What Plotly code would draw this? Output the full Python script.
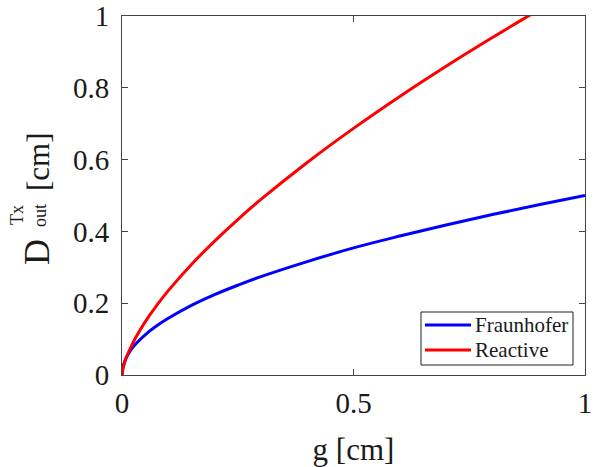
import plotly.graph_objects as go

# Gap g [cm] and the outer transmitter diameter bound D_out^Tx [cm]
g_fraunhofer = [0, 0.002, 0.005, 0.01, 0.02, 0.03, 0.05, 0.075, 0.1, 0.15, 0.2,
                0.25, 0.3, 0.4, 0.5, 0.6, 0.7, 0.8, 0.9, 1.0]
d_fraunhofer = [0, 0.022, 0.035, 0.05, 0.071, 0.087, 0.112, 0.137, 0.158, 0.194,
                0.224, 0.25, 0.274, 0.316, 0.354, 0.387, 0.418, 0.447, 0.474, 0.5]

g_reactive = [0, 0.002, 0.005, 0.01, 0.02, 0.03, 0.05, 0.075, 0.1, 0.15, 0.2,
              0.25, 0.3, 0.4, 0.5, 0.6, 0.7, 0.8, 0.875, 0.9]
d_reactive = [0, 0.017, 0.032, 0.051, 0.080, 0.105, 0.148, 0.194, 0.235, 0.308,
              0.373, 0.433, 0.489, 0.592, 0.687, 0.776, 0.860, 0.940, 0.998, 1.017]

series_names = ["Fraunhofer", "Reactive"]
series_colors = ["#0000FF", "#FF0000"]

x_ticks = [0, 0.5, 1]
x_tick_labels = ["0", "0.5", "1"]
y_ticks = [0, 0.2, 0.4, 0.6, 0.8, 1]
y_tick_labels = ["0", "0.2", "0.4", "0.6", "0.8", "1"]

SERIF = "Liberation Serif"
INK = "#1a1a1a"
W, H = 597, 467
L, R, T, B = 122, 12, 16, 92
PW, PH = W - L - R, H - T - B


def px_to_paper(px, py):
    return (px - L) / PW, (H - B - py) / PH


fig = go.Figure()
for gx, dy, name, color in [(g_fraunhofer, d_fraunhofer, series_names[0], series_colors[0]),
                            (g_reactive, d_reactive, series_names[1], series_colors[1])]:
    fig.add_trace(go.Scatter(x=gx, y=dy, mode="lines", name=name, showlegend=False,
                             line=dict(color=color, width=3, shape="spline")))

axis_common = dict(
    showgrid=False, zeroline=False, showline=True, linecolor="#444444", linewidth=1,
    mirror="ticks", ticks="inside", ticklen=6, tickcolor="#444444", tickwidth=1,
    tickfont=dict(family=SERIF, size=29, color=INK), automargin=False,
)
fig.update_xaxes(range=[0, 1], tickvals=x_ticks, ticktext=x_tick_labels,
                 ticklabelstandoff=2,
                 title=dict(text="g [cm]", font=dict(family=SERIF, size=31, color=INK),
                            standoff=20),
                 **axis_common)
fig.update_yaxes(range=[0, 1], tickvals=y_ticks, ticktext=y_tick_labels,
                 ticklabelstandoff=6, **axis_common)

# y-axis label: D with stacked superscript "Tx" and subscript "out", then "[cm]"
label_parts = [
    ("D", 37, 252, 36),
    ("Tx", 17, 215, 18),
    ("out", 40, 216, 18),
    ("[cm]", 38, 162, 31),
]
for text, px, py, size in label_parts:
    ax, ay = px_to_paper(px, py)
    fig.add_annotation(text=text, x=ax, y=ay, xref="paper", yref="paper",
                       xanchor="center", yanchor="middle", showarrow=False,
                       textangle=-90, font=dict(family=SERIF, size=size, color=INK))

# Boxed legend in the lower-right corner of the axes
box_x0, box_y0 = px_to_paper(421, 365)
box_x1, box_y1 = px_to_paper(573, 312)
fig.add_shape(type="rect", xref="paper", yref="paper",
              x0=box_x0, y0=box_y0, x1=box_x1, y1=box_y1,
              line=dict(color="#222222", width=1), fillcolor="white", layer="above")
for i, (name, color) in enumerate(zip(series_names, series_colors)):
    row_y = 325 + 25 * i
    lx0, ly = px_to_paper(425, row_y)
    lx1, _ = px_to_paper(471, row_y)
    fig.add_shape(type="line", xref="paper", yref="paper",
                  x0=lx0, y0=ly, x1=lx1, y1=ly,
                  line=dict(color=color, width=3), layer="above")
    tx, ty = px_to_paper(473, row_y)
    fig.add_annotation(text=name, x=tx, y=ty, xref="paper", yref="paper",
                       xanchor="left", yanchor="middle", showarrow=False,
                       font=dict(family=SERIF, size=21, color=INK))

fig.update_layout(
    width=W, height=H,
    margin=dict(l=L, r=R, t=T, b=B),
    paper_bgcolor="white", plot_bgcolor="white",
    font=dict(family=SERIF, color=INK),
    showlegend=False,
)

fig.write_html("out.html")
